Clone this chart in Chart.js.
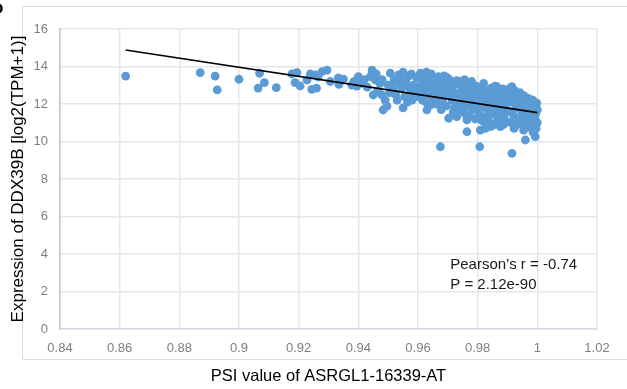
<!DOCTYPE html>
<html>
<head>
<meta charset="utf-8">
<script src="https://cdn.jsdelivr.net/npm/chart.js@4.4.1/dist/chart.umd.min.js"></script>
<style>
  html, body { margin: 0; padding: 0; background: #fff; }
  #wrap { position: relative; width: 627px; height: 389px; overflow: hidden; }
  #frame { position: absolute; left: 22px; top: 6px; width: 620px; height: 354px; border: 1px solid #d9dce1; box-sizing: border-box; }
  #chart { position: absolute; left: 0; top: 0; }
</style>
</head>
<body>
<div id="wrap">
  <div id="frame"></div>
  <canvas id="chart" width="627" height="389"></canvas>
</div>
<script>
// ---- data ----
const psi = [
  0.862, 0.887, 0.892, 0.8927, 0.900, 0.9069, 0.9085, 0.9064, 0.9125, 0.9177,
  0.9194, 0.9188, 0.9205, 0.9228, 0.9239, 0.9255, 0.9244, 0.926, 0.9265, 0.9278,
  0.9295, 0.9306, 0.9333, 0.935, 0.9335,
  // 0.935 - 0.95
  0.9378, 0.940, 0.9446, 0.944, 0.9457, 0.9473, 0.945, 0.9479, 0.9483, 0.9496,
  0.9507, 0.950, 0.9517, 0.9385, 0.942, 0.943, 0.9465, 0.948, 0.949, 0.946,
  0.941, 0.9395,
  // 0.95 - 0.96
  0.954, 0.9533, 0.955, 0.9567, 0.9574, 0.958, 0.952, 0.9525, 0.953, 0.955,
  0.956, 0.9555, 0.957, 0.9585, 0.959, 0.9595, 0.951, 0.9545, 0.9565, 0.9578,
  0.9588, 0.9598, 0.9535, 0.9505,
  // 0.96 - 0.97
  0.9608, 0.9618, 0.9597, 0.9608, 0.963, 0.963, 0.9651, 0.9647, 0.9675, 0.9608,
  0.9669, 0.961, 0.962, 0.9625, 0.963, 0.9635, 0.964, 0.9645, 0.965, 0.9655,
  0.966, 0.9665, 0.967, 0.9672, 0.968, 0.9685, 0.969, 0.9695, 0.9698, 0.9615,
  0.9628, 0.9642, 0.9662, 0.9678, 0.9688, 0.9612, 0.9638, 0.9658, 0.9682, 0.9692,
  // 0.97 - 0.98
  0.9703, 0.973, 0.9764, 0.9764, 0.9742, 0.9786, 0.9705, 0.971, 0.9715, 0.972,
  0.9722, 0.9725, 0.973, 0.9735, 0.974, 0.9745, 0.975, 0.9752, 0.9758, 0.976,
  0.9765, 0.977, 0.9772, 0.9775, 0.978, 0.9782, 0.9785, 0.979, 0.9792, 0.9795,
  0.9712, 0.9718, 0.9728, 0.9738, 0.9748, 0.9755, 0.9762, 0.9768, 0.9778, 0.9788,
  0.9798, 0.9708, 0.9732, 0.9756, 0.9774,
  // 0.98 - 0.99
  0.9809, 0.9807, 0.9826, 0.9853, 0.9876, 0.982, 0.9865, 0.9802, 0.9805, 0.981,
  0.9812, 0.9815, 0.9818, 0.982, 0.9825, 0.983, 0.9832, 0.9835, 0.984, 0.9842,
  0.9845, 0.985, 0.9852, 0.9855, 0.986, 0.9862, 0.9868, 0.987, 0.9872, 0.9875,
  0.988, 0.9882, 0.9885, 0.9888, 0.989, 0.9892, 0.9895, 0.9898, 0.9808, 0.9822,
  0.9838, 0.9848, 0.9858, 0.9864, 0.9878, 0.9886, 0.9894, 0.9828, 0.9878, 0.9845,
  // 0.99 - 1.0
  0.9915, 0.9915, 0.996, 0.9993, 0.9954, 0.9977, 0.9902, 0.9905, 0.991, 0.9912,
  0.9918, 0.992, 0.9925, 0.9928, 0.993, 0.9932, 0.9935, 0.9938, 0.994, 0.9945,
  0.9948, 0.995, 0.9952, 0.9955, 0.9958, 0.996, 0.9962, 0.9965, 0.9968, 0.997,
  0.9972, 0.9975, 0.9978, 0.998, 0.9982, 0.9985, 0.9988, 0.999, 0.9992, 0.9995,
  0.9998, 1.0, 1.0, 0.9908, 0.9922, 0.9942, 0.9966, 0.9986, 0.9996
];
const ddx39b = [
  13.49, 13.67, 13.49, 12.75, 13.32, 13.64, 13.14, 12.85, 12.87, 13.60,
  13.67, 13.14, 12.96, 13.28, 13.60, 13.55, 12.78, 12.85, 13.44, 13.72,
  13.81, 13.20, 13.39, 13.33, 13.05,
  13.01, 13.46, 13.81, 13.46, 13.28, 13.10, 12.48, 12.48, 11.68, 11.89,
  13.65, 13.01, 12.75, 13.20, 13.30, 12.90, 12.70, 13.30, 12.20, 13.60,
  13.10, 12.95,
  13.46, 13.12, 11.79, 12.92, 12.59, 12.21, 13.30, 12.50, 12.20, 13.70,
  13.20, 12.40, 13.50, 13.00, 12.70, 13.40, 12.90, 12.85, 12.10, 13.60,
  12.35, 12.90, 13.55, 12.60,
  13.55, 13.28, 12.75, 12.39, 12.04, 11.68, 13.28, 12.75, 9.72, 13.64,
  13.46, 13.00, 12.60, 13.45, 12.85, 13.10, 12.40, 13.60, 12.10, 12.90,
  13.15, 12.60, 12.30, 13.30, 12.80, 13.05, 12.50, 11.90, 13.40, 12.20,
  13.70, 11.95, 12.00, 11.70, 13.50, 12.85, 13.35, 12.25, 12.15, 12.95,
  11.24, 11.32, 11.15, 10.52, 13.19, 12.92, 13.30, 12.70, 12.20, 13.00,
  11.80, 12.45, 13.25, 12.00, 12.60, 11.60, 12.90, 12.30, 11.85, 13.10,
  12.50, 12.05, 11.45, 12.75, 13.20, 12.25, 11.70, 12.55, 11.20, 12.95,
  12.90, 11.55, 12.55, 13.05, 12.15, 12.70, 11.40, 12.85, 11.95, 12.40,
  11.90, 12.45, 11.95, 13.30, 12.30,
  10.61, 9.72, 10.70, 10.88, 10.79, 13.10, 12.92, 12.60, 11.50, 12.20,
  12.90, 11.10, 11.85, 12.45, 12.00, 11.35, 12.70, 11.60, 12.30, 11.00,
  12.85, 12.00, 11.45, 12.55, 11.75, 12.25, 11.20, 12.65, 11.90, 12.40,
  11.55, 12.10, 12.80, 11.30, 12.50, 11.80, 12.20, 11.05, 11.95, 11.25,
  12.55, 11.75, 12.95, 11.00, 12.00, 10.90, 12.65, 10.95, 11.55, 10.80,
  12.92, 9.37, 10.08, 10.26, 10.61, 10.79, 12.50, 11.60, 12.10, 11.00,
  12.40, 11.40, 12.70, 11.80, 12.20, 10.90, 12.50, 11.20, 11.95, 12.30,
  11.50, 12.05, 10.95, 12.45, 11.70, 11.25, 12.15, 11.90, 11.45, 12.30,
  11.05, 11.75, 12.00, 11.35, 11.60, 12.20, 10.85, 11.80, 11.20, 11.50,
  12.05, 11.00, 11.70, 12.85, 10.70, 12.60, 10.75, 10.50, 10.70
];
// fitted line end points
const trendX = [0.862, 1.0];
const trendY = [14.88, 11.54];
const xTicks = { min: 0.84, max: 1.02, step: 0.02 };
const yTicks = { min: 0, max: 16, step: 2 };
const statLines = ["Pearson\u2019s r = -0.74", "P = 2.12e-90"];
const statAnchor = { x: 0.9708, y: [3.41, 2.35] };

const points = psi.map((x, i) => ({ x: x, y: ddx39b[i] }));
const trend = trendX.map((x, i) => ({ x: x, y: trendY[i] }));

const fontFam = "'Liberation Sans', Arial, sans-serif";
const tickFont = { family: fontFam, size: 13 };
const tickColor = "#7f7f7f";
const gridColor = "#e3e6ec";

// writes the correlation text inside the plot
const statsText = {
  id: "statsText",
  afterDatasetsDraw(chart) {
    const ctx = chart.ctx;
    const xs = chart.scales.x, ys = chart.scales.y;
    ctx.save();
    ctx.fillStyle = "#1a1a1a";
    ctx.font = "15px " + fontFam;
    ctx.textBaseline = "middle";
    ctx.textAlign = "left";
    statLines.forEach((t, i) => {
      ctx.fillText(t, xs.getPixelForValue(statAnchor.x), ys.getPixelForValue(statAnchor.y[i]));
    });
    // cut-off panel letter in the corner
    ctx.font = "bold 17px " + fontFam;
    ctx.fillStyle = "#000";
    ctx.fillText("b", -7, 8);
    ctx.restore();
  },
};

new Chart(document.getElementById("chart"), {
  type: "scatter",
  data: {
    datasets: [
      {
        type: "line",
        data: trend,
        borderColor: "#000",
        borderWidth: 1.6,
        pointRadius: 0,
        fill: false,
      },
      {
        data: points,
        backgroundColor: "#5b9bd5",
        borderWidth: 0,
        pointRadius: 4.4,
      },
    ],
  },
  options: {
    responsive: false,
    animation: false,
    layout: { padding: { left: 8, top: 29, right: 30, bottom: 0 } },
    plugins: { legend: { display: false }, tooltip: { enabled: false } },
    scales: {
      x: {
        type: "linear",
        min: xTicks.min,
        max: xTicks.max,
        afterFit: (s) => { s.height = 60; },
        ticks: {
          stepSize: xTicks.step,
          padding: 12,
          color: tickColor,
          font: tickFont,
          callback: (v) => String(Number(v.toFixed(2))),
        },
        grid: { color: gridColor, lineWidth: 1.5, drawTicks: false },
        border: { color: "#d6dbe3", width: 1.5 },
        title: {
          display: true,
          text: "PSI value of ASRGL1-16339-AT",
          color: "#000",
          font: { family: fontFam, size: 16.5 },
          padding: { top: 0, bottom: 3 },
        },
      },
      y: {
        min: yTicks.min,
        max: yTicks.max,
        afterFit: (s) => { s.width = 52; },
        ticks: {
          stepSize: yTicks.step,
          padding: 12,
          color: tickColor,
          font: tickFont,
        },
        grid: { color: gridColor, lineWidth: 1.5, drawTicks: false },
        border: { color: "#bcc6d6", width: 1.5 },
        title: {
          display: true,
          text: "Expression of DDX39B [log2(TPM+1)]",
          color: "#000",
          font: { family: fontFam, size: 17 },
          padding: { top: 0, bottom: 0 },
        },
      },
    },
  },
  plugins: [statsText],
});
</script>
</body>
</html>
